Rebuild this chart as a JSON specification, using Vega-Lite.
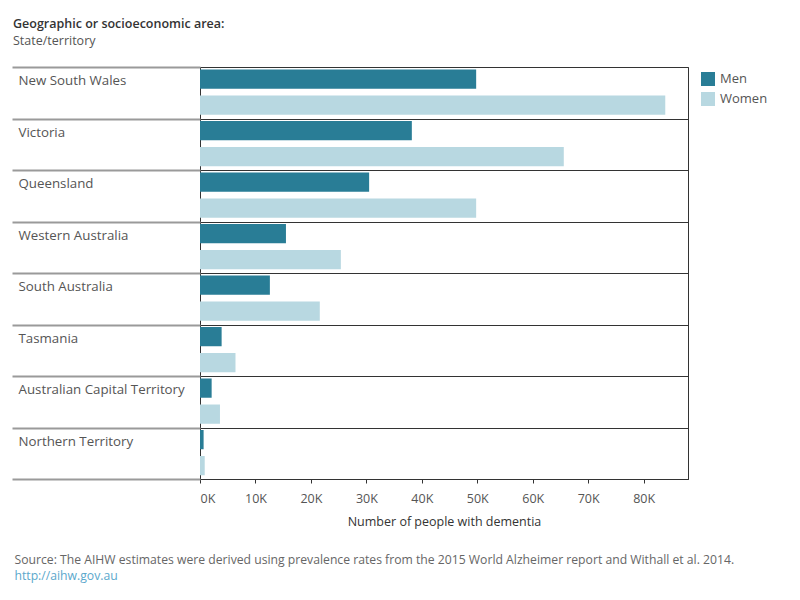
{
  "$schema": "https://vega.github.io/schema/vega-lite/v6.json",
  "background": "white",
  "padding": {"left": 10, "top": 17, "right": 10, "bottom": 10},
  "config": {"font": "Open Sans", "view": {"stroke": null}},
  "title": {
    "text": "Source: The AIHW estimates were derived using prevalence rates from the 2015 World Alzheimer report and Withall et al. 2014.",
    "subtitle": "http://aihw.gov.au",
    "orient": "bottom",
    "anchor": "start",
    "frame": "bounds",
    "dx": 4,
    "offset": 25,
    "fontSize": 12.2,
    "fontWeight": "normal",
    "color": "#666666",
    "subtitleFontSize": 12.2,
    "subtitleColor": "#5ba8cc",
    "subtitlePadding": 4
  },
  "vconcat": [
    {
      "title": {
        "text": "Geographic or socioeconomic area:",
        "subtitle": "State/territory",
        "anchor": "start",
        "frame": "bounds",
        "dx": 2,
        "fontSize": 12.5,
        "fontWeight": 600,
        "color": "#333333",
        "subtitleFontSize": 12.5,
        "subtitleColor": "#555555",
        "subtitlePadding": 4,
        "offset": 19
      },
      "width": 488,
      "height": 412,
      "view": {"stroke": "#333333", "strokeWidth": 1},
      "data": {
        "values": [
          {"state": "New South Wales", "sex": "Men", "count": 49800},
          {"state": "New South Wales", "sex": "Women", "count": 83900},
          {"state": "Victoria", "sex": "Men", "count": 38200},
          {"state": "Victoria", "sex": "Women", "count": 65600},
          {"state": "Queensland", "sex": "Men", "count": 30500},
          {"state": "Queensland", "sex": "Women", "count": 49800},
          {"state": "Western Australia", "sex": "Men", "count": 15500},
          {"state": "Western Australia", "sex": "Women", "count": 25400},
          {"state": "South Australia", "sex": "Men", "count": 12600},
          {"state": "South Australia", "sex": "Women", "count": 21600},
          {"state": "Tasmania", "sex": "Men", "count": 3900},
          {"state": "Tasmania", "sex": "Women", "count": 6400},
          {"state": "Australian Capital Territory", "sex": "Men", "count": 2100},
          {"state": "Australian Capital Territory", "sex": "Women", "count": 3600},
          {"state": "Northern Territory", "sex": "Men", "count": 650},
          {"state": "Northern Territory", "sex": "Women", "count": 850}
        ]
      },
      "mark": {"type": "bar"},
      "encoding": {
        "y": {
          "field": "state",
          "type": "nominal",
          "sort": ["New South Wales", "Victoria", "Queensland", "Western Australia", "South Australia", "Tasmania", "Australian Capital Territory", "Northern Territory"],
          "scale": {"paddingInner": 0, "paddingOuter": 0},
          "axis": {
            "title": null,
            "domain": false,
            "tickBand": "extent",
            "tickSize": 188,
            "tickColor": "#9a9a9a",
            "tickWidth": 2,
            "grid": true,
            "gridColor": "#333333",
            "gridWidth": 1,
            "labelAlign": "left",
            "labelBaseline": "top",
            "labelPadding": -6,
            "labelOffset": -19,
            "labelFontSize": 13.3,
            "labelColor": "#555555",
            "labelLimit": 190
          }
        },
        "yOffset": {
          "field": "sex",
          "type": "nominal",
          "sort": ["Men", "Women"],
          "scale": {"paddingInner": 0.26, "paddingOuter": 0.12, "align": 0.4}
        },
        "x": {
          "field": "count",
          "type": "quantitative",
          "title": "Number of people with dementia",
          "scale": {"domain": [0, 88000], "nice": false},
          "axis": {
            "values": [0, 10000, 20000, 30000, 40000, 50000, 60000, 70000, 80000],
            "labelExpr": "(datum.value / 1000) + 'K'",
            "labelFlush": true,
            "grid": false,
            "tickSize": 4,
            "tickColor": "#333333",
            "domainColor": "#333333",
            "labelColor": "#555555",
            "labelFontSize": 12.5,
            "labelPadding": 9,
            "titleFontSize": 12.5,
            "titleColor": "#333333",
            "titleFontWeight": "normal",
            "titlePadding": 11
          }
        },
        "color": {
          "field": "sex",
          "type": "nominal",
          "scale": {"domain": ["Men", "Women"], "range": ["#297d96", "#b8d8e1"]},
          "legend": {
            "title": null,
            "orient": "right",
            "offset": 7,
            "padding": 5,
            "symbolType": "square",
            "symbolSize": 196,
            "symbolStrokeWidth": 0,
            "symbolOpacity": 1,
            "labelFontSize": 13,
            "labelColor": "#555555",
            "labelOffset": 5,
            "rowPadding": 6
          }
        }
      }
    }
  ]
}
